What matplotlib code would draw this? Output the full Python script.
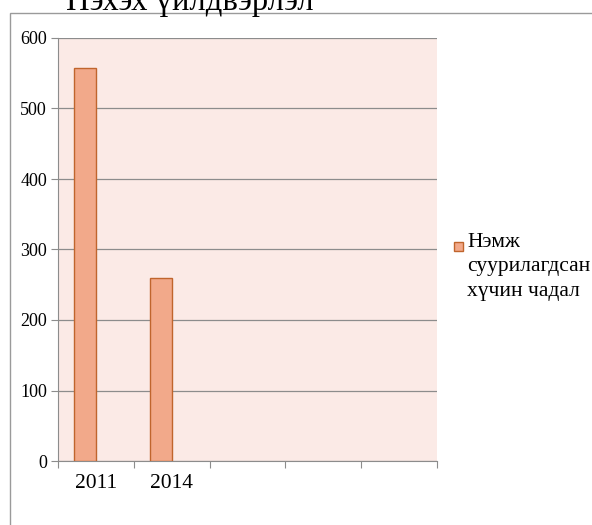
import matplotlib
matplotlib.use("Agg")
import matplotlib.pyplot as plt
from matplotlib.patches import Rectangle

# chart data
categories = ["2011", "2014", "", "", ""]
capacity = [558, 260, 0, 0, 0]
series_name = "Нэмж\nсуурилагдсан\nхүчин чадал"
title = "Нэхэх үйлдвэрлэл"

plt.rcParams['font.family'] = ['Liberation Serif', 'DejaVu Serif']

W, H = 592, 525
BAR = "#f2a98a"
EDGE = "#c0652d"
fig = plt.figure(figsize=(W / 100, H / 100), dpi=100)

# outer chart frame (cut off at right / bottom)
fig.patches.append(Rectangle((10 / W, -0.1), 1.2, (H - 13) / H + 0.1,
                             transform=fig.transFigure, fill=False,
                             edgecolor="#9a9a9a", linewidth=1.0))

ax = fig.add_axes([58 / W, (H - 461) / H, (437 - 58) / W, (461 - 38) / H])
ax.set_facecolor("#fbeae6")

x = list(range(len(categories)))
vals = [v if v else float("nan") for v in capacity]
# bar sits in the left half of the category slot (clustered layout)
ax.bar(x, vals, width=-0.29, align="edge", color=BAR, edgecolor=EDGE,
       linewidth=1.0, zorder=3)

ax.set_xlim(-0.5, len(categories) - 0.5)
ax.set_ylim(0, 600)
ax.set_yticks(range(0, 601, 100))
ax.yaxis.grid(True, color="#8c8c8c", linewidth=0.9, zorder=1)
ax.set_axisbelow(True)

ax.set_xticks([i - 0.5 for i in range(len(categories) + 1)])
ax.set_xticklabels([])
ax.set_xticks(x, minor=True)
ax.set_xticklabels(categories, minor=True, fontsize=15.5)
ax.tick_params(axis="x", which="major", length=5, color="#8c8c8c")
ax.tick_params(axis="x", which="minor", length=0, pad=9)
ax.tick_params(axis="y", length=5, color="#8c8c8c", labelsize=13, pad=3)

for s in ("top", "right"):
    ax.spines[s].set_visible(False)
for s in ("left", "bottom"):
    ax.spines[s].set_color("#8c8c8c")

# legend: marker next to the first line of the wrapped label
fig.patches.append(Rectangle((454 / W, (H - 251) / H), 9 / W, 9 / H,
                             transform=fig.transFigure, facecolor=BAR,
                             edgecolor=EDGE, linewidth=1.0))
fig.text(467 / W, (H - 233) / H, series_name, ha="left", va="top",
         fontsize=15.5, linespacing=1.38)

fig.text(190 / W, (H - 10) / H, title, ha="center", va="baseline",
         fontsize=23.5)

fig.savefig("out.png", dpi=100)
